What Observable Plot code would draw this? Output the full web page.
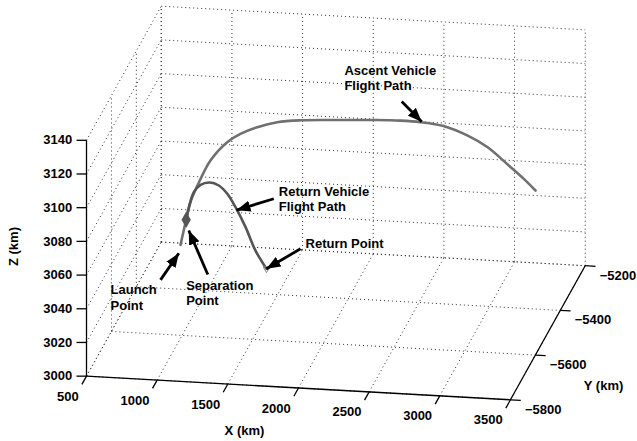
<!DOCTYPE html>
<html>
<head>
<meta charset="utf-8">
<script src="https://cdn.jsdelivr.net/npm/d3@7"></script>
<script src="https://cdn.jsdelivr.net/npm/@observablehq/plot@0.6"></script>
<style>
  body { margin: 0; background: #fff; }
  svg { display: block; }
</style>
</head>
<body>
<div id="chart"></div>
<script>
// Ascent vehicle flight path, Earth-centred coordinates (km)
const ascentX = [901, 939, 972, 1032, 1104, 1217, 1307, 1421, 1556, 1714, 1985, 2209, 2392, 2527, 2683, 2844, 2980, 3115, 3228, 3307];
const ascentY = [-5500, -5498, -5496, -5494, -5490, -5484, -5480, -5474, -5467, -5459, -5446, -5435, -5426, -5419, -5411, -5403, -5396, -5390, -5384, -5380];
const ascentZ = [3040.0, 3054.8, 3066.2, 3078.0, 3089.7, 3100.3, 3105.1, 3108.8, 3111.5, 3112.3, 3112.0, 3111.6, 3110.9, 3109.7, 3107.1, 3101.2, 3094.0, 3083.8, 3074.7, 3067.6];

// Return vehicle flight path, from separation to the return point (km)
const returnX = [939, 966, 996, 1044, 1111, 1176, 1237, 1297, 1369, 1441, 1520];
const returnY = [-5498, -5500, -5501, -5502, -5504, -5505, -5506, -5508, -5509, -5511, -5512];
const returnZ = [3054.8, 3064.6, 3071.8, 3076.5, 3078.5, 3077.2, 3072.7, 3065.3, 3053.9, 3040.6, 3030.3];

// Axis limits and ticks
const xLim = [500, 3500];
const yLim = [-5800, -5200];
const zLim = [3000, 3140];
const xTicks = [500, 1000, 1500, 2000, 2500, 3000, 3500];
const yTicks = [-5800, -5600, -5400, -5200];
const zTicks = [3000, 3020, 3040, 3060, 3080, 3100, 3120, 3140];

// Camera: azimuth / elevation in degrees, orthographic projection of the unit box
const view = {az: 10, el: 30};
const rad = Math.PI / 180;
const ca = Math.cos(view.az * rad), sa = Math.sin(view.az * rad);
const ce = Math.cos(view.el * rad), se = Math.sin(view.el * rad);

function project(X, Y, Z) {
  const nx = (X - xLim[0]) / (xLim[1] - xLim[0]);
  const ny = (Y - yLim[0]) / (yLim[1] - yLim[0]);
  const nz = (Z - zLim[0]) / (zLim[1] - zLim[0]);
  return {u: ca * nx + sa * ny, v: -sa * se * nx + ca * se * ny + ce * nz};
}

// Plot frame
const W = 637, H = 441;
const margin = {left: 86, right: 52.3, top: 5.7, bottom: 41.7};

// projected extent of the axes box
const corners = [];
for (const X of xLim) for (const Y of yLim) for (const Z of zLim) corners.push(project(X, Y, Z));
const uDom = d3.extent(corners, d => d.u);
const vDom = d3.extent(corners, d => d.v);
const kx = (W - margin.left - margin.right) / (uDom[1] - uDom[0]);
const ky = (H - margin.top - margin.bottom) / (vDom[1] - vDom[0]);
// shift a projected point by a pixel offset
const shift = (p, dx, dy) => ({u: p.u + dx / kx, v: p.v - dy / ky});

const ascent = ascentX.map((x, i) => project(x, ascentY[i], ascentZ[i]));
const ret = returnX.map((x, i) => project(x, returnY[i], returnZ[i]));
const launchPt = ascent[0];
const separationPt = ascent[1];
const returnPt = ret[ret.length - 1];

// dotted grid on the floor, back wall and left wall
const seg = (a, b) => ({u1: a.u, v1: a.v, u2: b.u, v2: b.v});
const grid = [];
for (const x of xTicks) {
  grid.push(seg(project(x, yLim[0], zLim[0]), project(x, yLim[1], zLim[0])));
  grid.push(seg(project(x, yLim[1], zLim[0]), project(x, yLim[1], zLim[1])));
}
for (const y of yTicks) {
  grid.push(seg(project(xLim[0], y, zLim[0]), project(xLim[1], y, zLim[0])));
  grid.push(seg(project(xLim[0], y, zLim[0]), project(xLim[0], y, zLim[1])));
}
for (const z of zTicks) {
  grid.push(seg(project(xLim[0], yLim[1], z), project(xLim[1], yLim[1], z)));
  grid.push(seg(project(xLim[0], yLim[0], z), project(xLim[0], yLim[1], z)));
}

// axis lines
const axes = [
  seg(project(xLim[0], yLim[0], zLim[0]), project(xLim[1], yLim[0], zLim[0])),
  seg(project(xLim[1], yLim[0], zLim[0]), project(xLim[1], yLim[1], zLim[0])),
  seg(project(xLim[0], yLim[0], zLim[0]), project(xLim[0], yLim[0], zLim[1]))
];

// tick marks
const xTickPts = xTicks.map(x => ({...project(x, yLim[0], zLim[0]), label: String(x)}));
const yTickPts = yTicks.map(y => ({...project(xLim[1], y, zLim[0]), label: y < 0 ? "\u2212" + Math.abs(y) : String(y)}));
const zTickPts = zTicks.map(z => ({...project(xLim[0], yLim[0], z), label: String(z)}));
const tickSegs = [
  ...xTicks.map(x => seg(project(x, yLim[0], zLim[0]), project(x, yLim[0] - 37, zLim[0]))),
  ...yTicks.map(y => seg(project(xLim[1], y, zLim[0]), project(xLim[1] + 73, y, zLim[0]))),
  ...zTickPts.map(p => seg(p, shift(p, -10, 0)))
];

// axis titles
const titles = [
  {...shift(project(2000, yLim[0], zLim[0]), -54, 42.5), text: "X (km)", rotate: 0},
  {...shift(project(xLim[1], -5500, zLim[0]), 55.7, 53.5), text: "Y (km)", rotate: 0},
  {...shift(project(xLim[0], yLim[0], 3070), -72.7, -11.7), text: "Z (km)", rotate: -90}
];

// callouts: anchor on a path, label offset and arrow tail/tip offsets (px)
const notes = [
  {anchor: ascent[13], text: "Ascent Vehicle\nFlight Path", label: [-76, -44.5], tail: [-18.7, -20.7], tip: [1.3, -0.5]},
  {anchor: ret[7], text: "Return Vehicle\nFlight Path", label: [43.3, -8.7], tail: [38.3, -8.4], tip: [1, 3]},
  {anchor: returnPt, text: "Return Point", label: [39, -25.6], tail: [34, -20], tip: [0, 0]},
  {anchor: launchPt, text: "Launch\nPoint", label: [-70, 52.2], tail: [-20, 35], tip: [-1.7, 8.4]},
  {anchor: separationPt, text: "Separation\nPoint", label: [0, 72.9], tail: [21.6, 54.7], tip: [2.6, 10.7]}
];
const noteLabels = notes.map(n => ({...shift(n.anchor, ...n.label), text: n.text}));
const noteArrows = notes.map(n => seg(shift(n.anchor, ...n.tail), shift(n.anchor, ...n.tip)));

// filled triangular arrowhead
function arrowHead(color, context) {
  const doc = context.document;
  const m = doc.createElementNS("http://www.w3.org/2000/svg", "marker");
  m.setAttribute("viewBox", "-14 -6 14 12");
  m.setAttribute("markerWidth", "14");
  m.setAttribute("markerHeight", "12");
  m.setAttribute("markerUnits", "userSpaceOnUse");
  m.setAttribute("orient", "auto");
  const p = doc.createElementNS("http://www.w3.org/2000/svg", "path");
  p.setAttribute("d", "M0,0L-14,-5.6L-14,5.6Z");
  p.setAttribute("fill", color);
  p.setAttribute("stroke", "none");
  m.appendChild(p);
  return m;
}

const font = "'Liberation Sans', Arial, Helvetica, sans-serif";
const textStyle = {fontFamily: font, fontWeight: "bold", fontSize: 13, fill: "#000"};

const chart = Plot.plot({
  width: W,
  height: H,
  marginLeft: margin.left,
  marginRight: margin.right,
  marginTop: margin.top,
  marginBottom: margin.bottom,
  style: {fontFamily: font, background: "#fff"},
  x: {domain: uDom, axis: null},
  y: {domain: vDom, axis: null},
  marks: [
    Plot.link(grid, {x1: "u1", y1: "v1", x2: "u2", y2: "v2", stroke: "#333", strokeWidth: 1, strokeDasharray: "1,3"}),
    Plot.link(axes, {x1: "u1", y1: "v1", x2: "u2", y2: "v2", stroke: "#000", strokeWidth: 1.3}),
    Plot.link(tickSegs, {x1: "u1", y1: "v1", x2: "u2", y2: "v2", stroke: "#000", strokeWidth: 1.3}),
    Plot.text(xTickPts, {x: "u", y: "v", text: "label", textAnchor: "end", dx: -7.7, dy: 20.4, ...textStyle}),
    Plot.text(yTickPts, {x: "u", y: "v", text: "label", textAnchor: "start", dx: 14.5, dy: 9.8, ...textStyle}),
    Plot.text(zTickPts, {x: "u", y: "v", text: "label", textAnchor: "end", dx: -14.3, ...textStyle}),
    Plot.text(titles, {x: "u", y: "v", text: "text", rotate: "rotate", ...textStyle}),
    Plot.line(ascent, {x: "u", y: "v", stroke: "#707070", strokeWidth: 2.6, curve: "catmull-rom"}),
    Plot.line(ret, {x: "u", y: "v", stroke: "#555", strokeWidth: 2.6, curve: "catmull-rom"}),
    Plot.dot([separationPt], {x: "u", y: "v", symbol: "diamond", r: 4, fill: "#555", stroke: "#555"}),
    Plot.dot([returnPt], {x: "u", y: "v", symbol: "triangle", rotate: 180, r: 2.5, fill: "none", stroke: "#888", strokeWidth: 1}),
    Plot.link(noteArrows, {x1: "u1", y1: "v1", x2: "u2", y2: "v2", stroke: "#000", strokeWidth: 2.8, markerEnd: arrowHead}),
    Plot.text(noteLabels, {x: "u", y: "v", text: "text", textAnchor: "start", lineHeight: 1.2, ...textStyle})
  ]
});

document.getElementById("chart").appendChild(chart);
</script>
</body>
</html>
